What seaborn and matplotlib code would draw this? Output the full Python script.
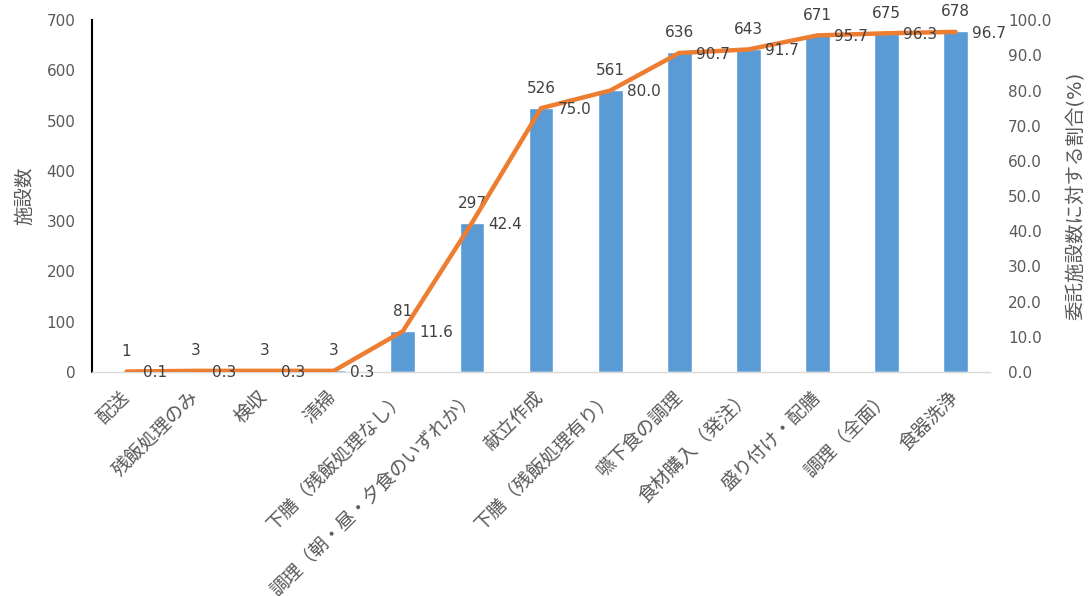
import matplotlib
matplotlib.use("Agg")
import matplotlib.pyplot as plt
import matplotlib.transforms as mtransforms
import seaborn as sns
import pandas as pd

categories = ['配送', '残飯処理のみ', '検収', '清掃', '下膳（残飯処理なし）',
              '調理（朝・昼・夕食のいずれか）', '献立作成', '下膳（残飯処理有り）',
              '嚥下食の調理', '食材購入（発注）', '盛り付け・配膳', '調理（全面）', '食器洗浄']
counts = [1, 3, 3, 3, 81, 297, 526, 561, 636, 643, 671, 675, 678]
ratios = [0.1, 0.3, 0.3, 0.3, 11.6, 42.4, 75.0, 80.0, 90.7, 91.7, 95.7, 96.3, 96.7]

sns.set_theme(style="white")
plt.rcParams['font.family'] = ['DejaVu Sans', 'Noto Sans CJK JP']

grey = '#595959'
bar_color = '#5B9BD5'
line_color = '#ED7D31'

df = pd.DataFrame({'cat': categories, 'count': counts, 'ratio': ratios})

fig = plt.figure(figsize=(10.88, 5.96), dpi=100)
ax = fig.add_axes([0.0846, 0.376, 0.8254, 0.590])

sns.barplot(data=df, x='cat', y='count', color=bar_color, width=0.36,
            saturation=1, ax=ax)
ax.set_ylim(0, 700)
ax.set_yticks(range(0, 701, 100))
ax.set_xlim(-0.5, len(categories) - 0.5)
ax.set_xlabel('')
ax.set_ylabel('施設数', color=grey, fontsize=14, labelpad=9)
ax.tick_params(axis='y', colors=grey, labelsize=11, length=0, pad=12)
ax.tick_params(axis='x', colors=grey, labelsize=13.5, length=0, pad=11)
# shift the rotated category labels a little to the left
shift = mtransforms.ScaledTranslation(-5 / 72, 0, fig.dpi_scale_trans)
for lbl in ax.get_xticklabels():
    lbl.set_rotation(45)
    lbl.set_ha('right')
    lbl.set_rotation_mode('anchor')
    lbl.set_transform(lbl.get_transform() + shift)

for s in ['top', 'right']:
    ax.spines[s].set_visible(False)
ax.spines['left'].set_color('black')
ax.spines['left'].set_linewidth(1.5)
ax.spines['bottom'].set_color('#D9D9D9')
ax.spines['bottom'].set_linewidth(1)

for i, c in enumerate(counts):
    ax.annotate(str(c), (i, c), xytext=(0, 14), textcoords='offset points',
                ha='center', va='center', color='#404040', fontsize=11)

ax2 = ax.twinx()
ax2.plot(range(len(ratios)), ratios, color=line_color, linewidth=3.2,
         solid_joinstyle='round', solid_capstyle='round', zorder=3)
ax2.set_ylim(0, 100)
ax2.set_yticks(range(0, 101, 10))
ax2.set_yticklabels([f'{v:.1f}' for v in range(0, 101, 10)])
ax2.tick_params(axis='y', colors=grey, labelsize=11, length=0, pad=13)
ax2.set_ylabel('委託施設数に対する割合(%)', color=grey, fontsize=14, labelpad=10)
for s in ax2.spines.values():
    s.set_visible(False)

for i, r in enumerate(ratios):
    ax2.annotate(f'{r:.1f}', (i, r), xytext=(12, -1), textcoords='offset points',
                 ha='left', va='center', color='#404040', fontsize=11)

fig.savefig('out.png', dpi=100)
